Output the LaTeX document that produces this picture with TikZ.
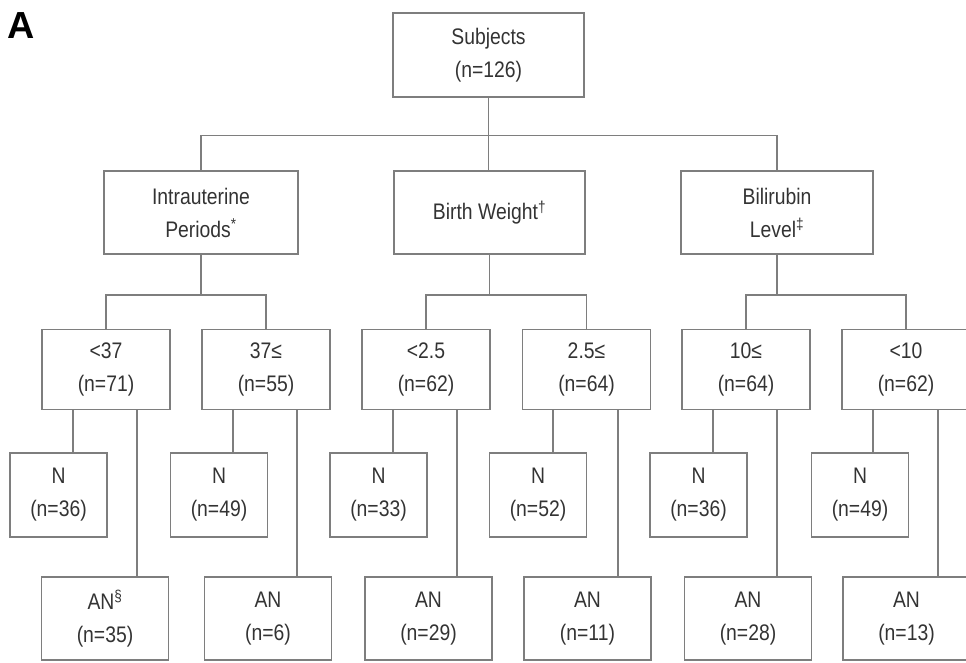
\documentclass[tikz,border=0pt]{standalone}
\usepackage{fontspec}
\setmainfont{Liberation Sans}
\newfontfamily\narrowfont[FakeStretch=0.86]{Liberation Sans}
\definecolor{linegray}{HTML}{7E7E7E}
\definecolor{textgray}{HTML}{333333}
\begin{document}
\begin{tikzpicture}[x=1pt,y=-1pt,
  box/.style={draw=linegray, line width=1.8pt, inner sep=0pt, align=center,
    text=textgray, font=\narrowfont\fontsize{22.5}{33}\selectfont},
  lvtwo/.style={box, minimum width=194pt, minimum height=83pt},
  lvthree/.style={box, minimum width=128pt, minimum height=80pt},
  nbox/.style={box, minimum width=97pt, minimum height=84pt},
  anbox/.style={box, minimum width=127pt, minimum height=83pt},
  conn/.style={draw=linegray, line width=1.8pt}]
\useasboundingbox (0,0) rectangle (966,662);
\clip (0,0) rectangle (966,662);

\node[anchor=base, font=\fontsize{37.7}{40}\selectfont\bfseries] (lbl) at (21,38) {A};

% level 1
\node[box, minimum width=191pt, minimum height=84pt] (top) at (488.5,55) {Subjects\\(n=126)};

% level 2
\node[lvtwo] (intra) at (201,212.5) {Intrauterine\\Periods\textsuperscript{*}};
\node[lvtwo, minimum width=191pt] (bw) at (489.5,212.5) {Birth Weight\textsuperscript{†}};
\node[lvtwo, minimum width=192pt] (bili) at (777,212.5) {Bilirubin\\Level\textsuperscript{‡}};

% level 3
\node[lvthree] (a) at (106,369.5) {<37\\(n=71)};
\node[lvthree] (b) at (266,369.5) {37≤\\(n=55)};
\node[lvthree] (c) at (426,369.5) {<2.5\\(n=62)};
\node[lvthree] (d) at (586.5,369.5) {2.5≤\\(n=64)};
\node[lvthree] (e) at (746,369.5) {10≤\\(n=64)};
\node[lvthree] (f) at (906,369.5) {<10\\(n=62)};

% level 4: N
\node[nbox] (an) at (58.5,495) {N\\(n=36)};
\node[nbox] (bn) at (219,495) {N\\(n=49)};
\node[nbox] (cn) at (378.5,495) {N\\(n=33)};
\node[nbox] (dn) at (538,495) {N\\(n=52)};
\node[nbox] (en) at (698.5,495) {N\\(n=36)};
\node[nbox] (fn) at (860,495) {N\\(n=49)};

% level 5: AN
\node[anbox] (aa) at (105,618.5) {AN\textsuperscript{§}\\(n=35)};
\node[anbox] (ba) at (268,618.5) {AN\\(n=6)};
\node[anbox] (ca) at (428.5,618.5) {AN\\(n=29)};
\node[anbox] (da) at (587.5,618.5) {AN\\(n=11)};
\node[anbox] (ea) at (748,618.5) {AN\\(n=28)};
\node[anbox] (fa) at (906.5,618.5) {AN\\(n=13)};

% connectors level 1 -> 2
\coordinate (j1) at (488.5,135.5);
\draw[conn] (top.south) -- (j1);
\draw[conn] (intra.north) -- (intra.north |- j1) -- (bili.north |- j1) -- (bili.north);
\draw[conn] (j1) -- (bw.north -| j1);

% connectors level 2 -> 3
\coordinate (j2) at (0,295);
\draw[conn] (intra.south) -- (intra.south |- j2);
\draw[conn] (a.north) -- (a.north |- j2) -- (b.north |- j2) -- (b.north);
\draw[conn] (bw.south) -- (bw.south |- j2);
\draw[conn] (c.north) -- (c.north |- j2) -- (d.north |- j2) -- (d.north);
\draw[conn] (bili.south) -- (bili.south |- j2);
\draw[conn] (e.north) -- (e.north |- j2) -- (f.north |- j2) -- (f.north);

% connectors level 3 -> N and AN
\foreach \p/\n/\q/\s in {a/an/aa/96, b/bn/ba/96, c/cn/ca/96, d/dn/da/96, e/en/ea/96, f/fn/fa/97}{
  \draw[conn] ([xshift=31.5pt]\p.south west) -- ([xshift=31.5pt]\p.south west |- \n.north);
  \draw[conn] ([xshift=\s pt]\p.south west) -- ([xshift=\s pt]\p.south west |- \q.north);
}
\end{tikzpicture}
\end{document}
